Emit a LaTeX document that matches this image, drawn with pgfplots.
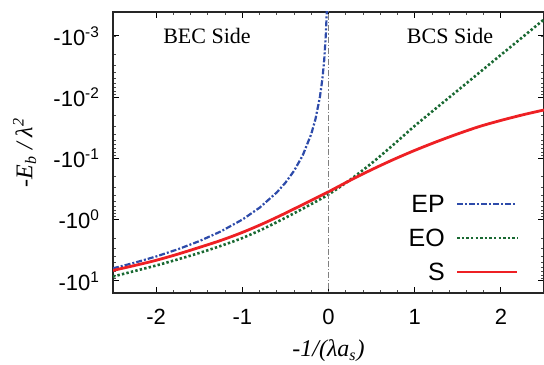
\documentclass[border=0pt]{standalone}
\usepackage{fontspec}
\setmainfont{Liberation Serif}
\newfontfamily\sansf{Liberation Sans}
\usepackage{pgfplots}
\pgfplotsset{compat=1.18}
\definecolor{epblue}{RGB}{45,75,170}
\definecolor{eogreen}{RGB}{25,105,50}
\definecolor{sred}{RGB}{238,32,36}
\begin{document}
\begin{tikzpicture}
\begin{axis}[name=ax, scale only axis, width=215.5pt, height=140.5pt,
  xmin=-2.5, xmax=2.5, ymode=log, y dir=reverse, ymin=4.07e-4, ymax=15.8,
  xtick={-2,-1,0,1,2}, xticklabels={-2,-1,0,1,2}, minor x tick num=4,
  ytick={0.001,0.01,0.1,1,10},
  yticklabels={-10\textsuperscript{-3},-10\textsuperscript{-2},-10\textsuperscript{-1},-10\textsuperscript{0},-10\textsuperscript{1}},
  tick label style={font=\sansf\fontsize{11}{13}\selectfont},
  xticklabel style={yshift=-4.5pt},
  yticklabel style={xshift=-3pt},
  major tick length=3pt, minor tick length=1.6pt,
  every tick/.style={black, line width=0.5pt},
  minor tick style={black!70, line width=0.4pt},
  axis line style={line width=0.8pt, black!85},
  xlabel={\itshape -1/(λa\textsubscript{s})},
  ylabel={\itshape -E\textsubscript{b} / λ\textsuperscript{2}},
  label style={font=\fontsize{12}{14}\selectfont},
  xlabel style={at={(axis description cs:0.5,-0.205)}, anchor=center},
  ylabel style={at={(axis description cs:-0.205,0.5)}, anchor=center},
  legend entries={EP,EO,S},
  legend plot pos=right,
  legend cell align=right,
  legend image code/.code={\draw[#1] (0pt,0pt) -- (30pt,0pt);},
  legend style={draw=none, fill=none, font=\sansf\fontsize{12.5}{14}\selectfont,
    at={(axis description cs:0.956,0.196)}, anchor=east,
    nodes={inner sep=1pt, text height=9pt, text depth=0pt},
    row sep=6pt, column sep=4.5pt},
]
\addplot[epblue, line width=1.1pt, dash pattern=on 3pt off 1pt on 1pt off 1pt] coordinates {
(-2.5,6.25) (-2.25,5.0625) (-2.0,4) (-1.75,3.0625) (-1.5,2.25) (-1.25,1.5625)
(-1.0,1) (-0.8,0.64) (-0.6,0.36) (-0.5,0.25) (-0.4,0.16) (-0.3,0.09)
(-0.2,0.04) (-0.15,0.0225) (-0.1,0.01) (-0.07,0.0049) (-0.05,0.0025)
(-0.03,0.0009) (-0.02,0.0004) (-0.015,0.000225)};
\addplot[eogreen, line width=1.3pt, dash pattern=on 1.2pt off 1.1pt, smooth] coordinates {
(-2.5,8.51) (-2.25,6.92) (-2.0,5.62) (-1.75,4.47) (-1.5,3.51) (-1.25,2.69)
(-1.0,2.00) (-0.75,1.40) (-0.5,0.933) (-0.25,0.610) (0,0.389) (0.25,0.224)
(0.5,0.120) (0.75,0.0603) (1.0,0.0295) (1.25,0.0151) (1.5,0.00776)
(1.75,0.00398) (2.0,0.00204) (2.25,0.00105) (2.5,0.000537)};
\addplot[sred, line width=1.4pt, smooth] coordinates {
(-2.5,6.76) (-2.25,5.62) (-2.0,4.62) (-1.75,3.67) (-1.5,2.85) (-1.25,2.19)
(-1.0,1.62) (-0.75,1.148) (-0.5,0.785) (-0.25,0.525) (0,0.351) (0.25,0.229)
(0.5,0.153) (0.75,0.105) (1.0,0.0741) (1.25,0.0537) (1.5,0.0398)
(1.75,0.0302) (2.0,0.0240) (2.25,0.0195) (2.5,0.0162)};
\addplot[gray, line width=0.6pt, dash pattern=on 3pt off 1pt on 0.6pt off 1pt, forget plot] coordinates {(0,1e-5) (0,1e3)};
\node[font=\fontsize{11}{13}\selectfont] at (axis cs:-1.41,0.001) {BEC Side};
\node[font=\fontsize{11}{13}\selectfont] at (axis cs:1.41,0.001) {BCS Side};
\end{axis}
\pgfresetboundingbox
\path[use as bounding box] ([xshift=-56.5pt,yshift=-35.5pt]ax.south west) rectangle ([yshift=6pt]ax.north east);
\end{tikzpicture}
\end{document}
